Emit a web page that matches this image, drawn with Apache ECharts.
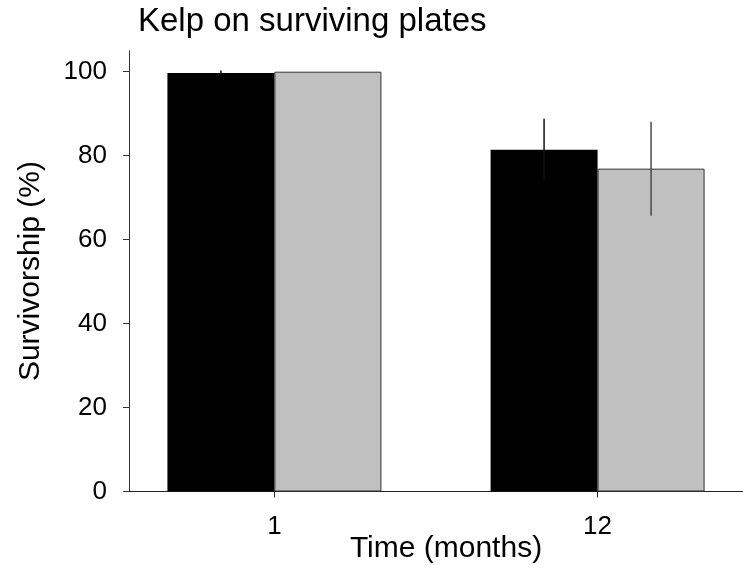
<!DOCTYPE html>
<html>
<head>
<meta charset="utf-8">
<script src="https://cdn.jsdelivr.net/npm/echarts@6/dist/echarts.min.js"></script>
<style>
html,body{margin:0;padding:0;background:#fff;}
#chart{width:743px;height:571px;}
</style>
</head>
<body>
<div id="chart"></div>
<script>
var categories = ['1', '12'];
var blackValues = [99.7, 81.4];
var blackErr = [0.6, 7.4];
var greyValues = [100, 76.9];
var greyErr = [0, 11.2];
var yTicks = [0, 20, 40, 60, 80, 100];

var FONT = 'Liberation Sans, Arial, sans-serif';
var BAR_W = 107;

function pts(vals) { return vals.map(function (v, i) { return [i + 1, v]; }); }
function errPts(vals, errs) { return vals.map(function (v, i) { return [i + 1, v - errs[i], v + errs[i]]; }); }

function errRenderer(offset, color) {
  return function (params, api) {
    var lo = api.coord([api.value(0), api.value(1)]);
    var hi = api.coord([api.value(0), api.value(2)]);
    if (api.value(2) - api.value(1) <= 0) return null;
    return {
      type: 'line',
      shape: { x1: lo[0] + offset, y1: lo[1], x2: hi[0] + offset, y2: hi[1] },
      style: { stroke: color, lineWidth: 1.5 }
    };
  };
}

var chart = echarts.init(document.getElementById('chart'));
chart.setOption({
  animation: false,
  backgroundColor: '#fff',
  title: {
    text: 'Kelp on surviving plates',
    left: 133, top: 0,
    textStyle: { fontFamily: FONT, fontSize: 33, fontWeight: 'normal', color: '#000' }
  },
  grid: { left: 129, right: 0, top: 50.7, bottom: 79.5, containLabel: false, outerBoundsMode: 'none' },
  xAxis: {
    type: 'value',
    min: 0.55, max: 2.45,
    splitLine: { show: false },
    axisLine: { show: true, lineStyle: { color: '#222', width: 1 } },
    axisTick: { show: true, length: 6, customValues: [1, 2], lineStyle: { color: '#222' } },
    axisLabel: {
      customValues: [1, 2],
      margin: 22,
      fontFamily: FONT, fontSize: 26, color: '#000',
      formatter: function (v) { return categories[Math.round(v) - 1] || ''; }
    },
    name: 'Time (months)',
    nameLocation: 'middle',
    nameGap: 42,
    nameMoveOverlap: false,
    nameTextStyle: { fontFamily: FONT, fontSize: 30, color: '#000', padding: [0, 0, 0, 20] }
  },
  yAxis: {
    type: 'value',
    min: 0, max: 105,
    splitLine: { show: false },
    axisLine: { show: true, lineStyle: { color: '#333', width: 1 } },
    axisTick: { show: true, inside: false, length: 6, customValues: yTicks, lineStyle: { color: '#333' } },
    axisLabel: {
      customValues: yTicks,
      margin: 22,
      fontFamily: FONT, fontSize: 26, color: '#000'
    },
    name: 'Survivorship (%)',
    nameLocation: 'middle',
    nameGap: 83,
    nameRotate: 90,
    nameMoveOverlap: false,
    nameTextStyle: { fontFamily: FONT, fontSize: 30, color: '#000' }
  },
  series: [
    {
      type: 'bar', name: 'black', data: pts(blackValues),
      barWidth: BAR_W, barGap: '0%',
      itemStyle: { color: '#000', borderColor: '#000', borderWidth: 0 }
    },
    {
      type: 'bar', name: 'grey', data: pts(greyValues),
      barWidth: BAR_W, barGap: '0%',
      itemStyle: { color: '#c0c0c0', borderColor: '#333', borderWidth: 1 }
    },
    {
      type: 'custom', name: 'blackErr', data: errPts(blackValues, blackErr),
      renderItem: errRenderer(-BAR_W / 2, '#111'), z: 5,
      encode: { x: 0, y: [1, 2] }
    },
    {
      type: 'custom', name: 'greyErr', data: errPts(greyValues, greyErr),
      renderItem: errRenderer(BAR_W / 2, '#4a4a4a'), z: 5,
      encode: { x: 0, y: [1, 2] }
    }
  ]
});
</script>
</body>
</html>
